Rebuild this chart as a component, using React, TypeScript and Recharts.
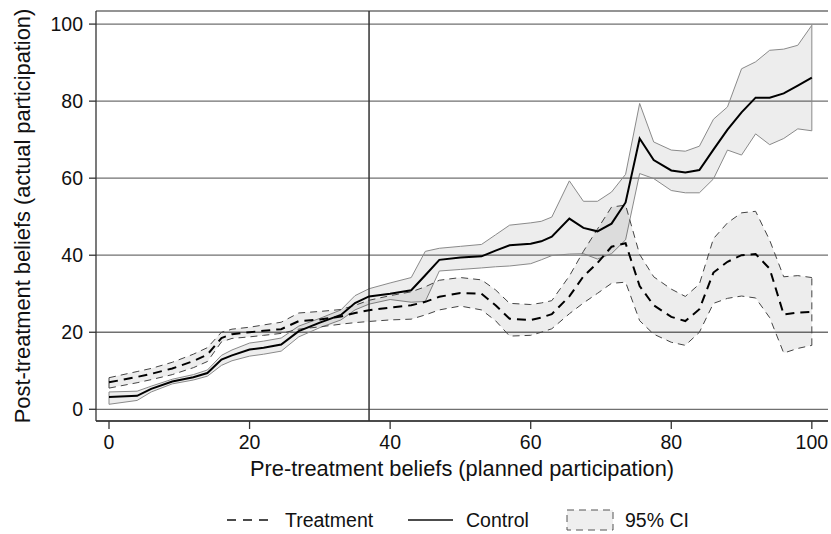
import {
  ComposedChart,
  Area,
  Line,
  XAxis,
  YAxis,
  CartesianGrid,
  ReferenceLine,
  Label,
} from "recharts";

// x positions (planned participation)
const xs = [0, 4, 6, 9, 12, 14, 16, 17.5, 20, 22, 24.5, 27, 30, 33, 35, 37, 40, 43, 45, 47, 50, 53, 55, 57, 60, 61.5, 63, 65.5, 67.5, 69.5, 71.5, 73.5, 75.5, 77.5, 80, 82, 84, 86, 88, 90, 92, 94, 96, 98, 100];

const controlMean = [3.2, 3.5, 5.3, 7.2, 8.3, 9.4, 12.9, 14.0, 15.5, 16.0, 16.8, 20.3, 22.5, 24.5, 27.6, 29.3, 30.0, 30.9, 34.8, 38.8, 39.4, 39.7, 41.2, 42.6, 43.0, 43.6, 44.8, 49.5, 47.1, 46.2, 48.2, 53.7, 70.3, 64.7, 62.0, 61.5, 62.1, 67.4, 72.6, 77.1, 80.9, 80.9, 82.0, 84.0, 86.1];
const controlHi = [4.5, 4.7, 6.0, 7.8, 9.0, 10.2, 14.0, 15.4, 17.2, 17.7, 18.5, 21.6, 23.6, 25.8, 29.5, 31.3, 32.8, 34.2, 41.0, 41.8, 42.3, 42.8, 45.3, 47.8, 48.4, 48.8, 49.9, 59.3, 54.0, 54.0, 56.4, 61.0, 79.4, 69.4, 67.3, 67.0, 68.3, 75.3, 78.5, 88.4, 90.2, 93.2, 93.5, 94.5, 99.7];
const controlLo = [1.3, 2.3, 4.5, 6.6, 7.6, 8.6, 11.4, 12.6, 13.8, 14.3, 15.1, 18.8, 21.2, 23.2, 25.8, 27.3, 28.5, 27.8, 28.0, 35.9, 36.3, 36.7, 37.0, 37.2, 37.8, 38.8, 39.9, 40.3, 40.4, 39.0, 40.4, 44.0, 61.2, 59.9, 56.8, 56.2, 56.2, 59.8, 67.3, 66.0, 71.5, 68.7, 70.3, 72.8, 72.3];

const treatMean = [7.0, 8.4, 9.2, 10.6, 12.5, 14.2, 18.5, 19.5, 20.0, 20.4, 20.8, 22.9, 23.3, 24.1, 25.0, 25.7, 26.4, 27.0, 27.9, 29.2, 30.2, 30.0, 27.0, 23.5, 23.2, 23.8, 24.7, 29.3, 34.5, 38.0, 42.2, 43.1, 32.0, 27.0, 24.0, 22.9, 26.0, 35.5, 38.3, 40.0, 40.3, 36.5, 24.6, 25.1, 25.3];
const treatHi = [8.2, 9.8, 10.6, 12.2, 14.3, 16.0, 20.0, 20.8, 21.3, 21.9, 22.6, 25.0, 25.4, 25.9, 27.0, 28.3, 29.5, 30.5, 31.8, 33.5, 34.2, 33.6, 31.0, 27.5, 27.2, 27.6, 28.2, 34.6, 41.0, 46.8, 52.5, 53.0, 40.2, 34.4, 31.2, 29.3, 32.5, 44.3, 48.4, 51.0, 51.4, 43.9, 34.4, 34.7, 34.2];
const treatLo = [5.5, 6.9, 7.7, 9.0, 10.8, 12.4, 17.5, 18.4, 18.8, 19.2, 19.7, 20.8, 21.4, 22.1, 22.5, 22.8, 23.2, 23.4, 24.5, 25.8, 26.8, 25.8, 23.0, 19.0, 19.2, 20.0, 20.9, 24.8, 27.6, 30.1, 32.7, 33.0, 23.0, 19.5, 17.4, 16.6, 20.0, 27.5, 28.8, 29.4, 28.9, 23.8, 14.6, 15.8, 16.6];

const xTicks = [0, 20, 40, 60, 80, 100];
const yTicks = [0, 20, 40, 60, 80, 100];
const cutoff = 37;

const rows = xs.map((x, i) => ({
  x,
  control: controlMean[i],
  controlBand: [controlLo[i], controlHi[i]],
  treatment: treatMean[i],
  treatBand: [treatLo[i], treatHi[i]],
}));

const first = 0;
const last = xs.length - 1;

const font = "'Liberation Sans', Arial, Helvetica, sans-serif";
const tickStyle = { fill: "#111", fontSize: 19.5, fontFamily: font };

function LegendRow() {
  return (
    <svg
      width={831}
      height={534}
      style={{ position: "absolute", left: 0, top: 0, pointerEvents: "none" }}
    >
      <g fontFamily={font} fontSize={19.5} fill="#111">
        <line x1={227} x2={273} y1={520} y2={520} stroke="#111" strokeWidth={1.6} strokeDasharray="9 7" />
        <text x={285} y={527}>Treatment</text>
        <line x1={408} x2={453} y1={520} y2={520} stroke="#111" strokeWidth={1.6} />
        <text x={466} y={527}>Control</text>
        <rect x={567} y={510} width={46} height={20} fill="#efefef" stroke="#555" strokeWidth={1} strokeDasharray="7 5" />
        <text x={625} y={527}>95% CI</text>
      </g>
    </svg>
  );
}

export default function App() {
  return (
    <div style={{ position: "fixed", left: 0, top: 0, width: 831, height: 534, background: "#fff" }}>
      <ComposedChart
        width={831}
        height={534}
        data={rows}
        margin={{ top: 11, right: 3, bottom: 50, left: 0 }}
      >
        <CartesianGrid vertical={false} stroke="#707070" strokeWidth={1.3} />
        <XAxis
          dataKey="x"
          type="number"
          domain={[-1.85, 102.3]}
          ticks={xTicks}
          allowDataOverflow
          height={63}
          tickSize={8}
          tickMargin={6}
          stroke="#333"
          strokeWidth={1.3}
          tick={tickStyle}
        >
          <Label
            value="Pre-treatment beliefs (planned participation)"
            position="insideBottom"
            offset={8}
            style={{ fill: "#111", fontSize: 21.8, fontFamily: font }}
          />
        </XAxis>
        <YAxis
          type="number"
          domain={[-3.04, 103.4]}
          ticks={yTicks}
          allowDataOverflow
          width={96}
          tickSize={7}
          tickMargin={6}
          stroke="#333"
          strokeWidth={1.3}
          tick={tickStyle}
        >
          <Label
            value="Post-treatment beliefs (actual participation)"
            angle={-90}
            position="insideLeft"
            offset={22}
            style={{ textAnchor: "middle", fill: "#111", fontSize: 21.8, fontFamily: font }}
          />
        </YAxis>
        <Area
          dataKey="controlBand"
          type="linear"
          stroke="#8a8a8a"
          strokeWidth={1}
          fill="#000"
          fillOpacity={0.07}
          isAnimationActive={false}
        />
        <Area
          dataKey="treatBand"
          type="linear"
          stroke="#444"
          strokeWidth={1}
          strokeDasharray="7 5"
          fill="#000"
          fillOpacity={0.07}
          isAnimationActive={false}
        />
        {/* closing edges of the bands at both ends */}
        <ReferenceLine
          segment={[{ x: xs[first], y: controlLo[first] }, { x: xs[first], y: controlHi[first] }]}
          stroke="#8a8a8a"
          strokeWidth={1}
        />
        <ReferenceLine
          segment={[{ x: xs[last], y: controlLo[last] }, { x: xs[last], y: controlHi[last] }]}
          stroke="#8a8a8a"
          strokeWidth={1}
        />
        <ReferenceLine
          segment={[{ x: xs[first], y: treatLo[first] }, { x: xs[first], y: treatHi[first] }]}
          stroke="#444"
          strokeWidth={1}
        />
        <ReferenceLine
          segment={[{ x: xs[last], y: treatLo[last] }, { x: xs[last], y: treatHi[last] }]}
          stroke="#444"
          strokeWidth={1}
          strokeDasharray="7 5"
        />
        <ReferenceLine x={cutoff} stroke="#333" strokeWidth={1.5} />
        <Line
          dataKey="control"
          type="linear"
          stroke="#000"
          strokeWidth={2}
          dot={false}
          activeDot={false}
          isAnimationActive={false}
        />
        <Line
          dataKey="treatment"
          type="linear"
          stroke="#000"
          strokeWidth={2}
          strokeDasharray="9 6"
          dot={false}
          activeDot={false}
          isAnimationActive={false}
        />
      </ComposedChart>
      <LegendRow />
    </div>
  );
}
